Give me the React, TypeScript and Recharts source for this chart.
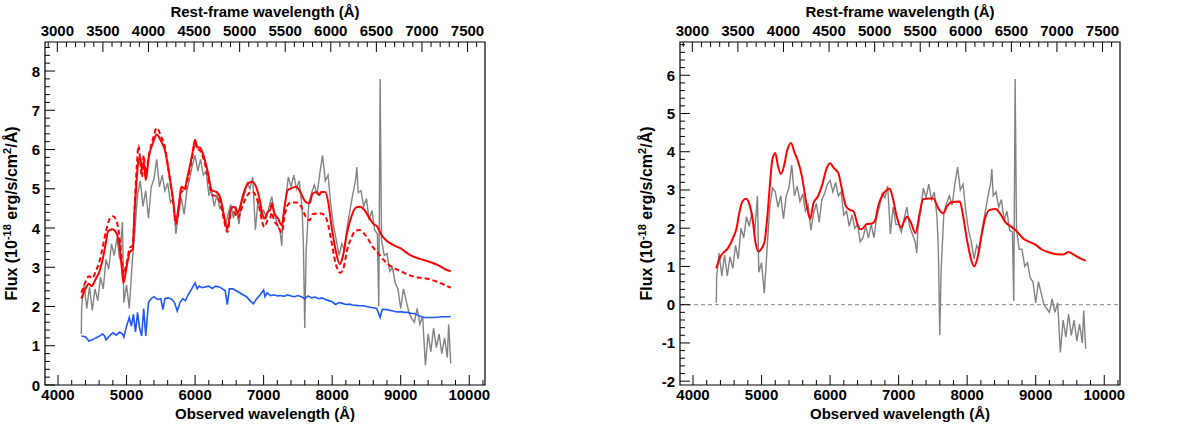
import { ComposedChart, Line, XAxis, YAxis, ReferenceArea, ReferenceLine, Label } from "recharts";

type Pt = [number, number];

// observed-frame wavelength range shown on both panels, and the redshift used for the top axis
const OBS_RANGE: [number, number] = [3810, 10230];
const ONE_PLUS_Z = 1.33;
const TOTAL_RANGE: [number, number] = [0, 8.74];
const SUB_RANGE: [number, number] = [-2.1, 6.87];

const OBS_MAJOR = [4000, 5000, 6000, 7000, 8000, 9000, 10000];
const OBS_MINOR_STEP = 200;
const REST_MAJOR = [3000, 3500, 4000, 4500, 5000, 5500, 6000, 6500, 7000, 7500];
const REST_MINOR_STEP = 100;
const TOTAL_MAJOR = [0, 1, 2, 3, 4, 5, 6, 7, 8];
const SUB_MAJOR = [-2, -1, 0, 1, 2, 3, 4, 5, 6];
const FLUX_MINOR_STEP = 0.2;

// observed spectrum (left panel)
const OBS_TOTAL: Pt[] = [
  [4340, 1.3], [4345, 2.0], [4380, 2.55], [4420, 1.95], [4460, 2.5], [4500, 1.9], [4540, 2.45], [4580, 2.15],
  [4620, 2.75], [4660, 2.45], [4700, 3.2], [4740, 2.95], [4780, 3.6], [4820, 3.3], [4860, 3.75], [4900, 3.2],
  [4940, 4.15], [4960, 2.1], [5000, 2.55], [5040, 1.95], [5080, 3.05], [5120, 3.9], [5160, 4.85], [5200, 5.2],
  [5240, 4.55], [5280, 4.95], [5320, 4.25], [5360, 5.05], [5400, 5.25], [5440, 5.75], [5480, 5.05], [5520, 5.35],
  [5560, 4.95], [5600, 5.15], [5640, 4.65], [5680, 4.75], [5720, 3.85], [5760, 4.4], [5800, 4.75], [5840, 4.35],
  [5880, 4.95], [5920, 5.25], [5960, 5.6], [6000, 5.85], [6040, 5.45], [6080, 5.75], [6120, 5.35], [6160, 5.45],
  [6200, 4.85], [6240, 4.95], [6280, 4.55], [6320, 4.85], [6360, 4.5], [6400, 4.55], [6440, 4.05], [6480, 4.35],
  [6520, 4.6], [6560, 4.25], [6600, 4.55], [6640, 4.1], [6680, 4.65], [6720, 4.85], [6760, 5.15], [6800, 5.0],
  [6840, 5.3], [6880, 3.95], [6920, 4.75], [6960, 4.35], [7000, 4.45], [7040, 4.25], [7080, 4.55], [7120, 4.8],
  [7160, 4.35], [7200, 4.1], [7240, 3.9], [7265, 3.55], [7280, 4.2], [7320, 4.7], [7360, 5.3], [7400, 5.05],
  [7440, 5.35], [7480, 5.0], [7520, 5.2], [7560, 4.55], [7580, 3.6], [7600, 1.45], [7620, 3.4], [7660, 4.65],
  [7700, 4.9], [7740, 5.1], [7780, 4.85], [7820, 5.4], [7860, 5.85], [7900, 5.2], [7940, 5.35], [7980, 4.6],
  [8020, 4.05], [8060, 3.7], [8100, 3.3], [8140, 3.6], [8180, 3.45], [8220, 4.05], [8260, 4.45], [8300, 4.85],
  [8340, 5.2], [8360, 5.55], [8380, 4.9], [8420, 4.95], [8460, 4.55], [8500, 4.75], [8540, 4.2], [8580, 4.45],
  [8620, 3.95], [8660, 3.85], [8680, 2.0], [8700, 7.8], [8720, 3.7], [8760, 3.3], [8800, 3.35], [8840, 2.9],
  [8880, 3.0], [8920, 2.6], [8960, 2.45], [9000, 1.95], [9040, 2.45], [9080, 2.15], [9120, 1.85], [9160, 1.7],
  [9200, 1.6], [9240, 1.95], [9280, 1.55], [9320, 1.75], [9360, 0.5], [9400, 1.3], [9440, 0.85], [9480, 1.45],
  [9520, 0.95], [9560, 1.3], [9600, 0.8], [9640, 1.2], [9680, 0.7], [9700, 1.55], [9730, 0.55],
];

// total model (solid) and model without host correction (dashed)
const MODEL_TOTAL: Pt[] = [
  [4340, 2.2], [4400, 2.45], [4450, 2.58], [4490, 2.52], [4550, 2.7], [4600, 2.87], [4660, 3.27], [4700, 3.65],
  [4730, 3.92], [4790, 3.97], [4850, 3.88], [4900, 3.5], [4930, 3.0], [4955, 2.6], [5000, 3.0], [5050, 3.4],
  [5090, 3.45], [5110, 4.2], [5140, 5.05], [5175, 5.73], [5200, 5.79], [5225, 5.47], [5250, 5.68], [5280, 5.22],
  [5325, 5.81], [5390, 6.19], [5440, 6.38], [5500, 6.22], [5560, 5.98], [5620, 5.4], [5680, 4.71], [5720, 4.16],
  [5765, 4.63], [5800, 5.05], [5840, 5.0], [5900, 5.39], [5960, 5.89], [6000, 6.25], [6030, 6.06], [6070, 6.05],
  [6115, 5.89], [6180, 5.47], [6245, 4.96], [6310, 4.92], [6370, 4.75], [6420, 4.33], [6470, 3.97], [6520, 4.46],
  [6560, 4.54], [6590, 4.5], [6620, 4.37], [6660, 4.56], [6700, 4.84], [6770, 5.13], [6830, 5.18], [6890, 5.05],
  [6945, 4.71], [6980, 4.37], [7010, 4.24], [7060, 4.41], [7095, 4.46], [7120, 4.63], [7150, 4.41], [7210, 4.24],
  [7265, 4.07], [7305, 4.54], [7350, 4.96], [7400, 5.01], [7480, 5.05], [7545, 4.88], [7610, 4.67], [7670, 4.63],
  [7715, 4.88], [7775, 4.92], [7810, 4.84], [7840, 4.92], [7900, 4.92], [7945, 4.63], [7985, 4.12], [8050, 3.44],
  [8112, 3.08], [8155, 3.27], [8215, 3.86], [8280, 4.29], [8345, 4.52], [8405, 4.54], [8470, 4.46], [8530, 4.29],
  [8595, 4.12], [8660, 4.03], [8720, 3.82], [8785, 3.69], [8890, 3.57], [9000, 3.48], [9120, 3.33], [9250, 3.23],
  [9350, 3.18], [9450, 3.12], [9550, 3.05], [9650, 2.95], [9730, 2.9],
];

const MODEL_DASHED: Pt[] = [
  [4340, 2.35], [4400, 2.62], [4450, 2.77], [4500, 2.72], [4550, 2.9], [4600, 3.12], [4650, 3.5], [4700, 3.92],
  [4750, 4.22], [4800, 4.3], [4850, 4.2], [4900, 3.72], [4930, 3.2], [4955, 2.82], [5000, 3.1], [5050, 3.5],
  [5090, 3.55], [5120, 4.6], [5150, 5.6], [5175, 6.1], [5200, 5.7], [5225, 5.3], [5250, 5.85], [5280, 5.4],
  [5330, 5.9], [5390, 6.3], [5440, 6.55], [5500, 6.35], [5560, 6.05], [5620, 5.38], [5680, 4.65], [5720, 4.1],
  [5765, 4.55], [5800, 4.95], [5840, 4.92], [5900, 5.3], [5960, 5.82], [6000, 6.18], [6030, 6.02], [6070, 5.98],
  [6115, 5.8], [6180, 5.38], [6245, 4.85], [6310, 4.8], [6370, 4.62], [6420, 4.22], [6470, 3.9], [6520, 4.35],
  [6560, 4.4], [6590, 4.35], [6620, 4.25], [6660, 4.4], [6700, 4.6], [6770, 4.85], [6830, 4.93], [6890, 4.8],
  [6945, 4.45], [6980, 4.15], [7010, 4.03], [7060, 4.2], [7095, 4.25], [7120, 4.4], [7150, 4.2], [7210, 4.05],
  [7265, 3.88], [7305, 4.3], [7350, 4.58], [7400, 4.65], [7480, 4.65], [7545, 4.55], [7610, 4.3], [7670, 4.2],
  [7715, 4.35], [7775, 4.37], [7840, 4.37], [7900, 4.3], [7945, 4.05], [7985, 3.7], [8050, 3.1], [8115, 2.86],
  [8160, 2.95], [8220, 3.45], [8280, 3.75], [8340, 3.93], [8400, 3.95], [8470, 3.85], [8530, 3.7], [8600, 3.5],
  [8660, 3.38], [8720, 3.25], [8800, 3.1], [8900, 2.98], [9000, 2.9], [9120, 2.8], [9250, 2.74], [9350, 2.72],
  [9450, 2.68], [9550, 2.62], [9650, 2.54], [9730, 2.48],
];

// host galaxy template (blue)
const HOST: Pt[] = [
  [4340, 1.25], [4400, 1.23], [4450, 1.12], [4500, 1.15], [4550, 1.2], [4600, 1.24], [4650, 1.3], [4680, 1.25],
  [4700, 1.15], [4750, 1.25], [4800, 1.33], [4850, 1.27], [4900, 1.35], [4940, 1.3], [4960, 1.22], [5000, 1.5],
  [5040, 1.72], [5070, 1.5], [5100, 1.8], [5130, 1.35], [5160, 1.85], [5190, 1.45], [5220, 1.25], [5250, 1.95],
  [5280, 1.25], [5320, 2.1], [5360, 2.2], [5400, 2.25], [5450, 2.18], [5500, 2.2], [5530, 1.92], [5560, 2.2],
  [5600, 2.22], [5650, 2.2], [5700, 2.1], [5740, 1.88], [5780, 2.1], [5820, 2.2], [5860, 2.15], [5900, 2.3],
  [5950, 2.45], [6000, 2.6], [6030, 2.45], [6060, 2.52], [6100, 2.48], [6150, 2.5], [6200, 2.52], [6250, 2.46],
  [6300, 2.52], [6350, 2.5], [6400, 2.45], [6440, 2.4], [6470, 2.05], [6500, 2.45], [6550, 2.45], [6600, 2.4],
  [6650, 2.35], [6700, 2.3], [6750, 2.25], [6800, 2.15], [6850, 2.07], [6900, 2.2], [6950, 2.3], [7000, 2.42],
  [7020, 2.25], [7050, 2.35], [7100, 2.28], [7150, 2.3], [7200, 2.27], [7250, 2.28], [7300, 2.26], [7350, 2.3],
  [7400, 2.27], [7450, 2.25], [7500, 2.28], [7550, 2.25], [7600, 2.2], [7650, 2.27], [7700, 2.22], [7750, 2.24],
  [7800, 2.2], [7850, 2.22], [7900, 2.18], [7950, 2.15], [8000, 2.12], [8050, 2.05], [8100, 2.1], [8150, 2.08],
  [8200, 2.05], [8250, 2.06], [8300, 2.04], [8350, 2.03], [8400, 2.02], [8450, 2.02], [8500, 2.0], [8550, 1.98],
  [8600, 1.97], [8650, 1.95], [8700, 1.72], [8730, 1.93], [8800, 1.92], [8850, 1.9], [8900, 1.88], [8950, 1.86],
  [9000, 1.87], [9050, 1.85], [9100, 1.85], [9150, 1.83], [9200, 1.82], [9250, 1.78], [9300, 1.74], [9350, 1.72],
  [9400, 1.72], [9500, 1.72], [9600, 1.74], [9700, 1.74], [9730, 1.75],
];

// host-subtracted spectrum and SN model (right panel)
const OBS_SUB: Pt[] = [
  [4340, 0.05], [4345, 0.75], [4380, 1.35], [4420, 0.75], [4460, 1.3], [4500, 0.75], [4540, 1.25], [4580, 0.95],
  [4620, 1.55], [4660, 1.2], [4700, 2.0], [4740, 1.75], [4780, 2.3], [4820, 2.05], [4860, 2.4], [4900, 1.9],
  [4940, 2.85], [4960, 0.85], [5000, 1.1], [5040, 0.3], [5080, 1.45], [5120, 2.55], [5160, 3.05], [5200, 2.95],
  [5240, 2.55], [5280, 2.85], [5320, 2.25], [5360, 2.85], [5400, 3.05], [5440, 3.65], [5480, 2.85], [5520, 3.1],
  [5560, 2.7], [5600, 2.9], [5640, 2.45], [5680, 2.6], [5720, 1.95], [5760, 2.4], [5800, 2.65], [5840, 2.15],
  [5880, 2.75], [5920, 2.9], [5960, 3.15], [6000, 3.25], [6040, 2.95], [6080, 3.2], [6120, 2.85], [6160, 2.95],
  [6200, 2.35], [6240, 2.45], [6280, 2.05], [6320, 2.35], [6360, 2.0], [6400, 2.1], [6440, 1.65], [6480, 1.75],
  [6520, 2.05], [6560, 1.75], [6600, 2.1], [6640, 1.75], [6680, 2.3], [6720, 2.55], [6760, 2.9], [6800, 2.8],
  [6840, 3.1], [6880, 1.85], [6920, 2.55], [6960, 2.1], [7000, 2.1], [7040, 1.9], [7080, 2.25], [7120, 2.55],
  [7160, 2.05], [7200, 1.85], [7240, 1.65], [7265, 1.35], [7280, 1.95], [7320, 2.45], [7360, 3.05], [7400, 2.8],
  [7440, 3.15], [7480, 2.75], [7520, 2.95], [7560, 2.3], [7580, 1.4], [7600, -0.8], [7620, 0.9], [7660, 2.4],
  [7700, 2.65], [7740, 2.85], [7780, 2.6], [7820, 3.15], [7860, 3.6], [7900, 3.0], [7940, 3.15], [7980, 2.45],
  [8020, 1.95], [8060, 1.65], [8100, 1.2], [8140, 1.55], [8180, 1.4], [8220, 2.0], [8260, 2.4], [8300, 2.8],
  [8340, 3.15], [8360, 3.55], [8380, 2.85], [8420, 2.95], [8460, 2.55], [8500, 2.75], [8540, 2.2], [8580, 2.45],
  [8620, 1.95], [8660, 1.9], [8680, 0.1], [8700, 5.9], [8720, 1.95], [8760, 1.45], [8800, 1.45], [8840, 1.0],
  [8880, 1.1], [8920, 0.7], [8960, 0.6], [9000, 0.05], [9040, 0.6], [9080, 0.3], [9120, 0.0], [9160, -0.1],
  [9200, -0.2], [9240, 0.15], [9280, -0.2], [9320, 0.05], [9360, -1.25], [9400, -0.4], [9440, -0.85], [9480, -0.25],
  [9520, -0.8], [9560, -0.4], [9600, -0.95], [9640, -0.5], [9680, -1.0], [9700, -0.15], [9730, -1.15],
];

const MODEL_SUB: Pt[] = [
  [4340, 0.95], [4400, 1.26], [4445, 1.36], [4510, 1.48], [4570, 1.69], [4635, 2.0], [4680, 2.44], [4720, 2.7],
  [4775, 2.77], [4825, 2.61], [4870, 2.22], [4910, 1.65], [4953, 1.39], [5005, 1.48], [5045, 1.65], [5080, 2.22],
  [5120, 3.09], [5157, 3.79], [5200, 3.97], [5240, 3.62], [5284, 3.42], [5326, 3.62], [5377, 4.05], [5428, 4.23],
  [5483, 3.97], [5525, 3.79], [5590, 3.35], [5653, 2.66], [5708, 2.24], [5758, 2.66], [5822, 2.83], [5886, 3.14],
  [5950, 3.57], [6000, 3.7], [6055, 3.57], [6120, 3.44], [6175, 3.0], [6233, 2.57], [6290, 2.48], [6343, 2.44],
  [6395, 2.13], [6440, 1.97], [6480, 2.0], [6535, 2.11], [6620, 2.13], [6660, 2.22], [6700, 2.57], [6765, 2.87],
  [6827, 3.0], [6868, 3.03], [6910, 2.83], [6973, 2.3], [7036, 2.02], [7078, 2.17], [7119, 2.3], [7174, 2.17],
  [7245, 1.87], [7307, 2.39], [7358, 2.76], [7433, 2.78], [7508, 2.78], [7579, 2.52], [7650, 2.39], [7705, 2.57],
  [7767, 2.68], [7893, 2.7], [7934, 2.39], [7997, 1.7], [8060, 1.17], [8102, 1.0], [8143, 1.17], [8206, 1.78],
  [8269, 2.3], [8331, 2.48], [8415, 2.5], [8478, 2.39], [8561, 2.15], [8645, 2.04], [8729, 1.91], [8812, 1.74],
  [8896, 1.65], [8979, 1.59], [9084, 1.45], [9188, 1.37], [9300, 1.32], [9400, 1.31], [9480, 1.38], [9560, 1.3],
  [9650, 1.21], [9730, 1.15],
];

const FONT = "'Liberation Sans', Arial, Helvetica, sans-serif";
const GRAY = "#828282";
const RED = "#ff0000";
const BLUE = "#1f55ff";

const pts = (a: Pt[]) => a.map(([w, f]) => ({ w, f }));
// same spectrum expressed in rest-frame wavelength, only used to anchor the top axis
const restPts = (a: Pt[]) => a.map(([w, f]) => ({ r: w / ONE_PLUS_Z, f }));

function tickRange(domain: [number, number], step: number): number[] {
  const out: number[] = [];
  for (let k = Math.ceil(domain[0] / step - 1e-9); k * step <= domain[1] + 1e-9; k++) {
    out.push(Math.round(k * step * 1000) / 1000);
  }
  return out;
}

const isMajor = (v: number, majors: number[]) => majors.some((m) => Math.abs(m - v) < 1e-6);

const txt = { fontFamily: FONT, fontSize: 15, fontWeight: 700, fill: "#000" } as const;

// inward-pointing ticks (major 10px, minor 5px), labels only on majors
function makeTick(side: "bottom" | "top" | "left", majors: number[]) {
  return (p: any) => {
    const { x, y, payload } = p;
    const v = payload.value;
    const major = isMajor(v, majors);
    const len = major ? 10 : 5;
    if (side === "bottom") {
      return (
        <g>
          <line x1={x} y1={y} x2={x} y2={y - len} stroke="#000" strokeWidth={1} />
          {major && <text x={x} y={y + 15} textAnchor="middle" {...txt}>{v}</text>}
        </g>
      );
    }
    if (side === "top") {
      return (
        <g>
          <line x1={x} y1={y} x2={x} y2={y + len} stroke="#000" strokeWidth={1} />
          {major && <text x={x} y={y - 6} textAnchor="middle" {...txt}>{v}</text>}
        </g>
      );
    }
    return (
      <g>
        <line x1={x} y1={y} x2={x + len} y2={y} stroke="#000" strokeWidth={1} />
        {major && <text x={x - 5} y={y + 5.5} textAnchor="end" {...txt}>{v}</text>}
      </g>
    );
  };
}

function FluxTitle(props: any) {
  const vb = props.viewBox || { x: 0, y: 0, width: 45, height: 343 };
  const cx = vb.x + vb.width - 28;
  const cy = vb.y + vb.height / 2;
  return (
    <text x={cx} y={cy} textAnchor="middle" transform={`rotate(-90 ${cx} ${cy})`} {...txt} fontSize={16}>
      Flux (10<tspan fontSize={11} dy={-6}>-18</tspan>
      <tspan dy={6}> erg/s/cm</tspan>
      <tspan fontSize={11} dy={-6}>2</tspan>
      <tspan dy={6}>/Å)</tspan>
    </text>
  );
}

function TopTitle(props: any) {
  const vb = props.viewBox || { x: 0, y: 0, width: 440, height: 42 };
  return (
    <text x={vb.x + vb.width / 2} y={vb.y + 17} textAnchor="middle" {...txt}>
      Rest-frame wavelength (Å)
    </text>
  );
}

function BottomTitle(props: any) {
  const vb = props.viewBox || { x: 0, y: 385, width: 440, height: 40 };
  return (
    <text x={vb.x + vb.width / 2} y={vb.y + 33.5} textAnchor="middle" {...txt}>
      Observed wavelength (Å)
    </text>
  );
}

interface PanelProps {
  yDomain: [number, number];
  yMajor: number[];
  axisWidth: number;
  rightMargin: number;
  anchor: Pt[];
  showZero?: boolean;
  children: React.ReactNode;
}

function Panel({ yDomain, yMajor, axisWidth, rightMargin, anchor, showZero, children }: PanelProps) {
  const restDomain: [number, number] = [OBS_RANGE[0] / ONE_PLUS_Z, OBS_RANGE[1] / ONE_PLUS_Z];
  return (
    <ComposedChart width={axisWidth + 440 + rightMargin} height={425} margin={{ top: 0, right: rightMargin, left: 0, bottom: 0 }}>
      <XAxis
        xAxisId="obs"
        type="number"
        dataKey="w"
        domain={OBS_RANGE}
        allowDataOverflow
        ticks={tickRange(OBS_RANGE, OBS_MINOR_STEP)}
        interval={0}
        tick={makeTick("bottom", OBS_MAJOR)}
        tickLine={false}
        axisLine={false}
        tickSize={0}
        tickMargin={0}
        height={40}
      >
        <Label content={BottomTitle} />
      </XAxis>
      <XAxis
        xAxisId="rest"
        orientation="top"
        type="number"
        dataKey="r"
        domain={restDomain}
        allowDataOverflow
        ticks={tickRange(restDomain, REST_MINOR_STEP)}
        interval={0}
        tick={makeTick("top", REST_MAJOR)}
        tickLine={false}
        axisLine={false}
        tickSize={0}
        tickMargin={0}
        height={42}
      >
        <Label content={TopTitle} />
      </XAxis>
      <YAxis
        type="number"
        domain={yDomain}
        allowDataOverflow
        ticks={tickRange(yDomain, FLUX_MINOR_STEP)}
        interval={0}
        tick={makeTick("left", yMajor)}
        tickLine={false}
        axisLine={false}
        tickSize={0}
        tickMargin={0}
        width={axisWidth}
      >
        <Label content={FluxTitle} />
      </YAxis>
      {showZero && (
        <ReferenceLine xAxisId="obs" y={0} stroke="#9a9a9a" strokeWidth={1.2} strokeDasharray="4 3" />
      )}
      <Line xAxisId="rest" data={restPts(anchor)} dataKey="f" stroke="none" strokeWidth={0} dot={false} activeDot={false} isAnimationActive={false} />
      {children}
      <ReferenceArea
        xAxisId="obs"
        x1={OBS_RANGE[0]}
        x2={OBS_RANGE[1]}
        y1={yDomain[0]}
        y2={yDomain[1]}
        fill="none"
        fillOpacity={0}
        stroke="#000"
        strokeWidth={1.2}
      />
    </ComposedChart>
  );
}

export default function App() {
  return (
    <div style={{ position: "absolute", left: 0, top: 0, width: 1200, height: 425, background: "#fff" }}>
      <div style={{ position: "absolute", left: 0, top: 0 }}>
        <Panel yDomain={TOTAL_RANGE} yMajor={TOTAL_MAJOR} axisWidth={45} rightMargin={115} anchor={OBS_TOTAL}>
          <Line xAxisId="obs" data={pts(OBS_TOTAL)} dataKey="f" type="linear" stroke={GRAY} strokeWidth={1.4} dot={false} isAnimationActive={false} />
          <Line xAxisId="obs" data={pts(HOST)} dataKey="f" type="linear" stroke={BLUE} strokeWidth={1.6} dot={false} isAnimationActive={false} />
          <Line xAxisId="obs" data={pts(MODEL_DASHED)} dataKey="f" type="monotone" stroke={RED} strokeWidth={2} strokeDasharray="5 3" dot={false} isAnimationActive={false} />
          <Line xAxisId="obs" data={pts(MODEL_TOTAL)} dataKey="f" type="monotone" stroke={RED} strokeWidth={2} dot={false} isAnimationActive={false} />
        </Panel>
      </div>
      <div style={{ position: "absolute", left: 600, top: 0 }}>
        <Panel yDomain={SUB_RANGE} yMajor={SUB_MAJOR} axisWidth={80} rightMargin={80} anchor={OBS_SUB} showZero>
          <Line xAxisId="obs" data={pts(OBS_SUB)} dataKey="f" type="linear" stroke={GRAY} strokeWidth={1.4} dot={false} isAnimationActive={false} />
          <Line xAxisId="obs" data={pts(MODEL_SUB)} dataKey="f" type="monotone" stroke={RED} strokeWidth={2} dot={false} isAnimationActive={false} />
        </Panel>
      </div>
    </div>
  );
}
